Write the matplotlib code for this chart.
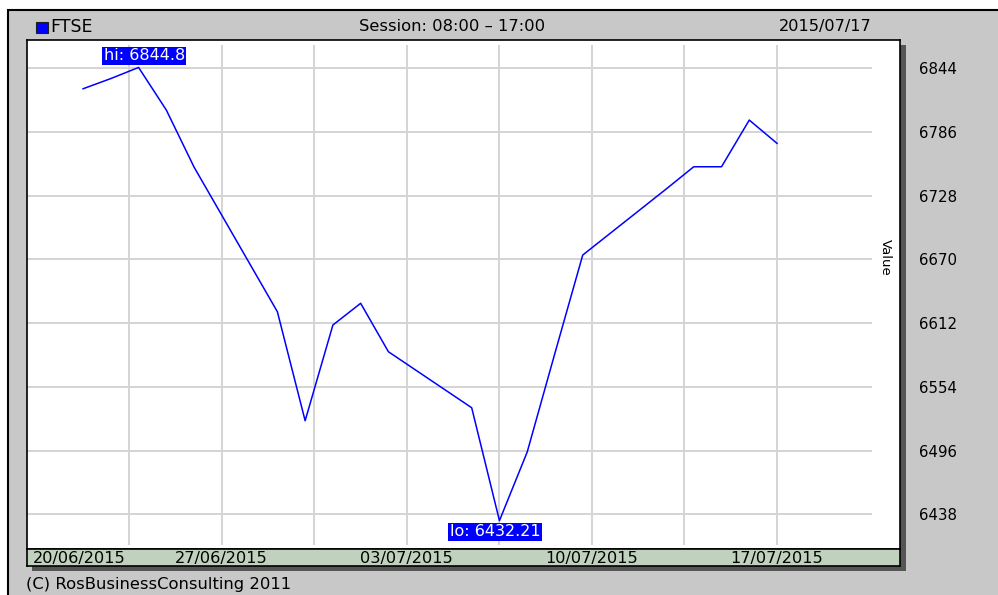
import numpy as np
import matplotlib
matplotlib.use("Agg")
import matplotlib.pyplot as plt
from matplotlib.patches import Rectangle

# FTSE daily values
dates = ["2015-06-22", "2015-06-23", "2015-06-24", "2015-06-25", "2015-06-26",
         "2015-06-29", "2015-06-30", "2015-07-01", "2015-07-02", "2015-07-03",
         "2015-07-06", "2015-07-07", "2015-07-08", "2015-07-09", "2015-07-10",
         "2015-07-13", "2015-07-14", "2015-07-15", "2015-07-16", "2015-07-17"]
values = [6825.4, 6834.7, 6844.8, 6806.0, 6754.0,
          6622.4, 6523.2, 6610.3, 6630.1, 6586.0,
          6535.0, 6432.21, 6494.7, 6584.8, 6674.0,
          6734.0, 6754.4, 6754.4, 6796.9, 6775.7]
y_ticks = [6438, 6496, 6554, 6612, 6670, 6728, 6786, 6844]
date_labels = ["20/06/2015", "27/06/2015", "03/07/2015", "10/07/2015", "17/07/2015"]

W, H = 998, 595
plt.rcParams['font.family'] = ['DejaVu Sans']

fig = plt.figure(figsize=(W / 100, H / 100), dpi=100)
fig.patch.set_facecolor("white")


def fx(px):
    return px / W


def fy(py):
    return 1 - py / H


# outer grey panel
fig.patches.append(Rectangle((fx(8), fy(600)), fx(1000), 590 / H, transform=fig.transFigure,
                             facecolor="#c8c8c8", edgecolor="black", lw=1.5, zorder=0))
# shadow of the plot box
fig.patches.append(Rectangle((fx(32), fy(571)), fx(874), 526 / H, transform=fig.transFigure,
                             facecolor="#555555", edgecolor="none", zorder=1))

days = (np.array(dates, dtype="datetime64[D]") - np.datetime64("2015-06-22")).astype(int)
x0, x1 = -2.02, 29.43
y0, y1 = 6406.4, 6869.8

ax = fig.add_axes([fx(27), fy(549), fx(873), 509 / H], zorder=2)
ax.set_facecolor("white")
ax.set_xlim(x0, x1)
ax.set_ylim(y0, y1)

# grid (does not span the full width / height)
grid_step = 3.335
vx = 25 - grid_step * np.arange(8)
ax.hlines(y_ticks, x0, 28.42, color="#d4d4d4", lw=1.4, zorder=1)
ax.vlines(vx, 6410, 6865.2, color="#d4d4d4", lw=1.4, zorder=1)

ax.plot(days, values, color="#0000ff", lw=1.1, zorder=3)

# hi / lo labels
i_hi = int(np.argmax(values))
i_lo = int(np.argmin(values))
box = dict(boxstyle="square,pad=0.1", facecolor="#0000ff", edgecolor="none")
ax.annotate(f"hi: {values[i_hi]:g}", (days[i_hi], values[i_hi]), xytext=(4, 8.5),
            textcoords="offset points", ha="center", va="center", color="white",
            fontsize=11.5, bbox=box, zorder=4)
ax.annotate(f"lo: {values[i_lo]:g}", (days[i_lo], values[i_lo]), xytext=(-3, -8),
            textcoords="offset points", ha="center", va="center", color="white",
            fontsize=11.5, bbox=box, zorder=4)

ax.set_xticks([])
ax.set_yticks(y_ticks)
ax.tick_params(axis="y", left=False, labelleft=False, right=True, labelright=True,
               length=0, pad=13.7, labelsize=10.8)
for s in ax.spines.values():
    s.set_color("black")
    s.set_linewidth(1.2)

# date band under the plot
bx = fig.add_axes([fx(27), fy(566), fx(873), 17 / H], zorder=2)
bx.set_facecolor("#c0d2be")
bx.set_xlim(x0, x1)
bx.set_ylim(0, 1)
bx.set_xticks([])
bx.set_yticks([])
for s in bx.spines.values():
    s.set_color("black")
    s.set_linewidth(1.2)
label_x = [-0.14, vx[6], vx[4], vx[2], vx[0]]
for lx, lab in zip(label_x, date_labels):
    bx.text(lx, 0.45, lab, ha="center", va="center", fontsize=11.6)

# header texts
fig.patches.append(Rectangle((fx(36), fy(33)), fx(12), 11 / H, transform=fig.transFigure,
                             facecolor="#0000ff", edgecolor="#202020", lw=0.8, zorder=3))
fig.text(fx(50), fy(26.5), "FTSE", ha="left", va="center", fontsize=12.5)
fig.text(fx(452), fy(26.5), "Session: 08:00 \u2013 17:00", ha="center", va="center", fontsize=11.8)
fig.text(fx(825), fy(26.5), "2015/07/17", ha="center", va="center", fontsize=11.6)
fig.text(fx(885), fy(257), "Value", ha="center", va="center", rotation=270, fontsize=9.5)
fig.text(fx(26), fy(585), "(C) RosBusinessConsulting 2011", ha="left", va="center", fontsize=11.8)

fig.savefig("out.png", dpi=100)
